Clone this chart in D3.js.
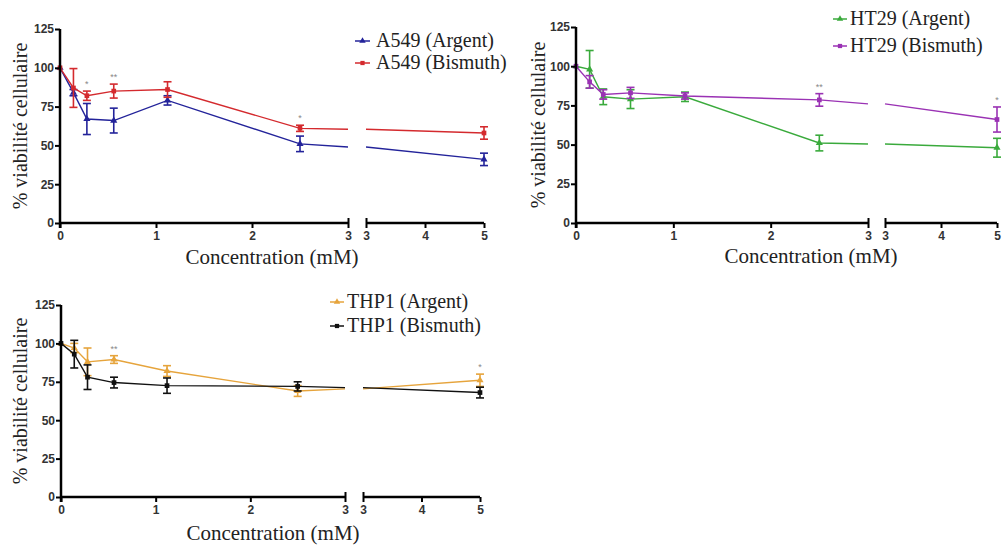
<!DOCTYPE html>
<html><head><meta charset="utf-8">
<script src="https://cdn.jsdelivr.net/npm/d3@7"></script>
<style>body{margin:0;background:#fff}svg{display:block}</style>
</head><body>
<svg id="c" width="1002" height="545" font-family="Liberation Serif"></svg>
<script>
// ---- data ----
const concentrations = [0, 0.14, 0.28, 0.56, 1.12, 2.5, 5];
const xTicksLeft = [0, 1, 2, 3];
const xTicksRight = [3, 4, 5];
const yTicks = [0, 25, 50, 75, 100, 125];

const a549Argent      = [100, 84, 67, 66, 79, 51, 41];
const a549ArgentErr   = [0, 2, 10, 8, 3, 5, 4];
const a549Bismuth     = [100, 87, 82, 85, 86, 61, 58];
const a549BismuthErr  = [0, 12.5, 3, 4.5, 5, 2, 4];

const ht29Argent      = [100, 98, 80.5, 79, 80.5, 51, 48];
const ht29ArgentErr   = [0, 12, 5, 6, 3, 5, 6];
const ht29Bismuth     = [100, 90, 82, 83, 81, 78.5, 66];
const ht29BismuthErr  = [0, 4, 3, 3.5, 2, 4, 8];

const thp1Argent      = [100, 97, 88, 89.5, 82, 69, 76];
const thp1ArgentErr   = [0, 3, 9, 2.5, 3.5, 3.5, 4];
const thp1Bismuth     = [100, 93, 78, 74.5, 72.5, 72, 68];
const thp1BismuthErr  = [0, 9, 8, 3.5, 5, 3, 3.5];

const seriesNames = ["A549 (Argent)", "A549 (Bismuth)", "HT29 (Argent)", "HT29 (Bismuth)", "THP1 (Argent)", "THP1 (Bismuth)"];
// significance marks: [series, concentration index, label]
const starsA549 = [[1, 2, "*"], [1, 3, "**"], [1, 5, "*"]];
const starsHT29 = [[1, 5, "**"], [1, 6, "*"]];
const starsTHP1 = [[0, 3, "**"], [0, 6, "*"]];

const xTitle = "Concentration (mM)";
const yTitle = "% viabilité cellulaire";

// ---- drawing ----
const svg = d3.select("#c");
const SERIF = "Liberation Serif";
const SANS = "Liberation Sans";

const panels = [
  {x0:60, x3:348, x3b:366, x5:484, yTop:29, yBot:223,
   series:[{name:seriesNames[0], v:a549Argent, e:a549ArgentErr, color:"#23239a", sym:d3.symbolTriangle},
           {name:seriesNames[1], v:a549Bismuth, e:a549BismuthErr, color:"#d42a2e", sym:d3.symbolSquare}],
   stars:starsA549, leg:{lx1:355, lx2:370, tx:376, y1:41, y2:63},
   yTitleX:27, xTitleX:272, xTitleY:264},
  {x0:576, x3:868, x3b:885, x5:997, yTop:27, yBot:223,
   series:[{name:seriesNames[2], v:ht29Argent, e:ht29ArgentErr, color:"#3aaa3c", sym:d3.symbolTriangle},
           {name:seriesNames[3], v:ht29Bismuth, e:ht29BismuthErr, color:"#9a32b4", sym:d3.symbolSquare}],
   stars:starsHT29, leg:{lx1:833, lx2:847, tx:850, y1:19, y2:46},
   yTitleX:545, xTitleX:811, xTitleY:263},
  {x0:61, x3:345, x3b:363, x5:480, yTop:305, yBot:497,
   series:[{name:seriesNames[4], v:thp1Argent, e:thp1ArgentErr, color:"#e6a43c", sym:d3.symbolTriangle},
           {name:seriesNames[5], v:thp1Bismuth, e:thp1BismuthErr, color:"#111111", sym:d3.symbolSquare}],
   stars:starsTHP1, leg:{lx1:330, lx2:344, tx:347, y1:302, y2:326},
   yTitleX:27, xTitleX:273, xTitleY:540}
];

panels.forEach(p => {
  const g = svg.append("g");
  const xL = d3.scaleLinear().domain([0, 3]).range([p.x0, p.x3]);
  const xR = d3.scaleLinear().domain([3, 5]).range([p.x3b, p.x5]);
  const xp = v => v <= 3 ? xL(v) : xR(v);
  const y = d3.scaleLinear().domain([0, 125]).range([p.yBot, p.yTop]);

  // lines (split at the axis break)
  p.series.forEach(s => {
    const pts = concentrations.map((c, i) => [c, s.v[i]]);
    const left = pts.filter(d => d[0] <= 3);
    const right = pts.filter(d => d[0] > 3);
    const a = left[left.length - 1], b = right[0];
    const vAt3 = a[1] + (b[1] - a[1]) * (3 - a[0]) / (b[0] - a[0]);
    const lineL = d3.line().x(d => xL(d[0])).y(d => y(d[1]));
    const lineR = d3.line().x(d => xR(d[0])).y(d => y(d[1]));
    g.append("path").attr("d", lineL(left.concat([[3, vAt3]])))
      .attr("fill", "none").attr("stroke", s.color).attr("stroke-width", 1.4);
    g.append("path").attr("d", lineR([[3, vAt3]].concat(right)))
      .attr("fill", "none").attr("stroke", s.color).attr("stroke-width", 1.4);
    // error bars
    concentrations.forEach((c, i) => {
      const e = s.e[i]; if (!e) return;
      const cx = xp(c), yt = y(s.v[i] + e), yb = y(s.v[i] - e);
      g.append("line").attr("x1", cx).attr("x2", cx).attr("y1", yt).attr("y2", yb)
        .attr("stroke", s.color).attr("stroke-width", 1.6);
      [yt, yb].forEach(yy => g.append("line").attr("x1", cx - 4).attr("x2", cx + 4)
        .attr("y1", yy).attr("y2", yy).attr("stroke", s.color).attr("stroke-width", 1.6));
    });
    // markers
    concentrations.forEach((c, i) => {
      g.append("path").attr("d", d3.symbol().type(s.sym).size(22)())
        .attr("transform", `translate(${xp(c)},${y(s.v[i])})`).attr("fill", s.color);
    });
  });

  // stars
  p.stars.forEach(([si, ci, lab]) => {
    const s = p.series[si];
    svg.append("text").attr("font-family", SANS).attr("x", xp(concentrations[ci]))
      .attr("y", y(s.v[ci] + s.e[ci]) - 4)
      .attr("text-anchor", "middle").attr("font-size", 9)
      .attr("fill", "#888").text(lab);
  });

  // y axis
  const yAx = g.append("g").attr("transform", `translate(${p.x0},0)`)
    .call(d3.axisLeft(y).tickValues(yTicks).tickSize(5).tickSizeOuter(0).tickPadding(1));
  yAx.attr("font-family", SANS).attr("font-size", 12).attr("font-weight", "bold");
  yAx.select(".domain").attr("stroke", "#000").attr("stroke-width", 2.5)
    .attr("d", `M0,${p.yTop}V${p.yBot + 5}`);
  yAx.selectAll(".tick line").attr("stroke", "#000").attr("stroke-width", 2);
  yAx.selectAll(".tick text").attr("fill", "#333");

  // x axes (two segments)
  [[xL, xTicksLeft, p.x0, p.x3], [xR, xTicksRight, p.x3b, p.x5]].forEach(([sc, tv, a, b]) => {
    const xa = g.append("g").attr("transform", `translate(0,${p.yBot})`)
      .call(d3.axisBottom(sc).tickValues(tv).tickSize(5).tickSizeOuter(0).tickPadding(3).tickFormat(d3.format("d")));
    xa.attr("font-family", SANS).attr("font-size", 12).attr("font-weight", "bold");
    xa.select(".domain").attr("stroke", "#000").attr("stroke-width", 2.5).attr("d", `M${a},0H${b}`);
    xa.selectAll(".tick line").attr("stroke", "#000").attr("stroke-width", 2)
      .attr("y1", d => d === 3 ? -5 : 0);
    xa.selectAll(".tick text").attr("fill", "#333");
  });

  // titles (inherit the serif family from the svg root)
  svg.append("text").attr("font-size", 21)
    .attr("x", p.xTitleX).attr("y", p.xTitleY)
    .attr("text-anchor", "middle").attr("fill", "#222").text(xTitle);
  svg.append("text").attr("font-size", 20)
    .attr("transform", `translate(${p.yTitleX},${(p.yTop + p.yBot) / 2}) rotate(-90)`)
    .attr("text-anchor", "middle")
    .attr("fill", "#222").text(yTitle);

  // legend
  p.series.forEach((s, i) => {
    const yy = i === 0 ? p.leg.y1 : p.leg.y2;
    g.append("line").attr("x1", p.leg.lx1).attr("x2", p.leg.lx2).attr("y1", yy).attr("y2", yy)
      .attr("stroke", s.color).attr("stroke-width", 1.5);
    g.append("path").attr("d", d3.symbol().type(s.sym).size(18)())
      .attr("transform", `translate(${(p.leg.lx1 + p.leg.lx2) / 2},${yy})`).attr("fill", s.color);
    svg.append("text").attr("font-size", 20)
      .attr("x", p.leg.tx).attr("y", yy + 6)
      .attr("fill", "#222").text(s.name);
  });
});
</script>
</body></html>
